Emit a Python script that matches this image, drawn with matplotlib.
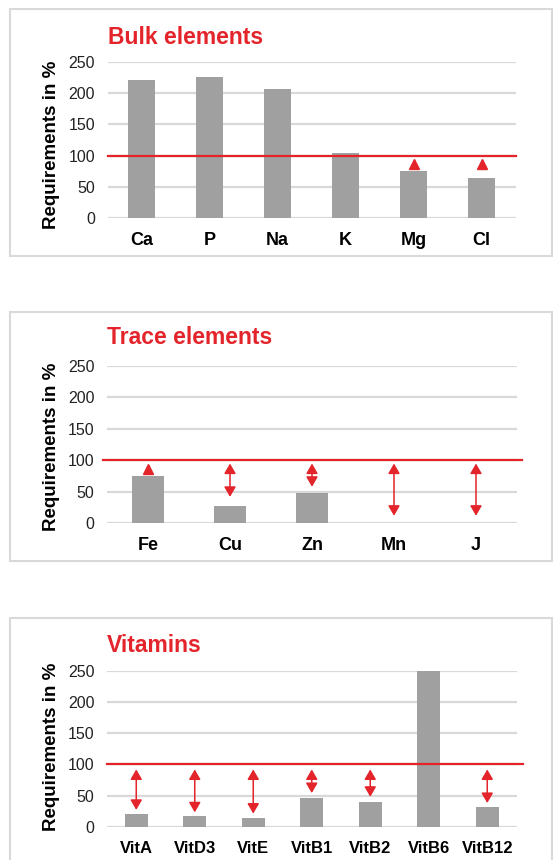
import numpy as np
import matplotlib
matplotlib.use('Agg')
import matplotlib.pyplot as plt
from matplotlib.patches import Rectangle

RED = '#e3242b'
BAR = '#a0a0a0'
GRID = '#d9d9d9'

# ---- data
bulk_names = ['Ca', 'P', 'Na', 'K', 'Mg', 'Cl']
bulk_values = [221, 226, 207, 104, 75, 64]
bulk_marks = [None, None, None, None, 87, 87]       # lone up triangles
bulk_arrow_top = [None] * 6
bulk_arrow_bot = [None] * 6

trace_names = ['Fe', 'Cu', 'Zn', 'Mn', 'J']
trace_values = [75, 27, 48, 0, 0]
trace_marks = [87, None, None, None, None]
trace_arrow_top = [None, 95, 95, 95, 95]
trace_arrow_bot = [None, 42, 58, 12, 12]

vit_names = ['VitA', 'VitD3', 'VitE', 'VitB1', 'VitB2', 'VitB6', 'VitB12']
vit_values = [21, 17, 14, 46, 40, 250, 32]
vit_marks = [None] * 7
vit_arrow_top = [92, 92, 92, 92, 92, None, 92]
vit_arrow_bot = [27, 23, 21, 54, 48, None, 38]

yticks = [0, 50, 100, 150, 200, 250]
requirement = 100

W, H = 553, 860
plt.rcParams['font.family'] = ['Liberation Sans', 'DejaVu Sans']
fig = plt.figure(figsize=(W / 100, H / 100), dpi=100)


def fx(px):
    return px / W


def fy(py):
    return 1 - py / H


def panel(box, axbox, title, title_y, ylab_y, names, values, marks,
          atop, abot, xfs, red_ext):
    # grey frame round the panel (pixels: x0, y0, x1, y1)
    x0, y0, x1, y1 = box
    fig.patches.append(Rectangle((fx(x0), fy(y1)), fx(x1) - fx(x0), fy(y0) - fy(y1),
                                 transform=fig.transFigure, fill=False,
                                 edgecolor=GRID, lw=1.5))
    l, t, r, b = axbox
    ax = fig.add_axes((fx(l), fy(b), fx(r) - fx(l), fy(t) - fy(b)))
    n = len(names)
    x = np.arange(n)
    ax.bar(x, values, width=0.4, color=BAR, zorder=2)
    ax.set_xlim(-0.5, n - 0.5)
    ax.set_ylim(0, 250)
    ax.set_yticks(yticks)
    ax.yaxis.grid(True, color=GRID, lw=1.6, zorder=0)
    ax.set_axisbelow(True)
    for s in ax.spines.values():
        s.set_visible(False)
    ax.tick_params(axis='both', length=0)
    ax.tick_params(axis='y', labelsize=11.5, pad=9, labelcolor='#222222')
    ax.tick_params(axis='x', pad=10)
    ax.set_xticks(x)
    ax.set_xticklabels(names, fontsize=xfs, fontweight='bold')
    ax.axhline(requirement, xmin=red_ext[0], xmax=red_ext[1], color=RED,
               lw=1.6, zorder=3, clip_on=False)

    for i in range(n):
        if marks[i] is not None:
            ax.plot(i, marks[i], marker='^', ms=6.5, color=RED, mec=RED, zorder=4)
        if atop[i] is not None:
            ax.annotate('', xy=(i, atop[i]), xytext=(i, abot[i]),
                        arrowprops=dict(arrowstyle='<|-|>,head_length=0.6,head_width=0.35',
                                        color=RED, lw=1.1, shrinkA=0, shrinkB=0),
                        zorder=4)

    fig.text(fx(l), fy(title_y), title, color=RED, fontsize=16.5,
             fontweight='bold', va='center', ha='left')
    fig.text(fx(52), fy(ylab_y), 'Requirements in %', rotation=90,
             fontsize=13.5, fontweight='bold', va='center', ha='center')
    return ax


panel((10, 9, 552, 256), (107.5, 62, 515.5, 218), 'Bulk elements', 37, 145,
      bulk_names, bulk_values, bulk_marks, bulk_arrow_top, bulk_arrow_bot,
      13, (0, 1))
panel((10, 312, 552, 561), (107, 366, 517, 523.3), 'Trace elements', 338, 447,
      trace_names, trace_values, trace_marks, trace_arrow_top, trace_arrow_bot,
      13, (-0.01, 1.012))
panel((10, 618, 552, 875), (107, 671, 516.5, 826.7), 'Vitamins', 645, 747,
      vit_names, vit_values, vit_marks, vit_arrow_top, vit_arrow_bot,
      12, (0, 1.015))

fig.savefig('out.png', dpi=100)
